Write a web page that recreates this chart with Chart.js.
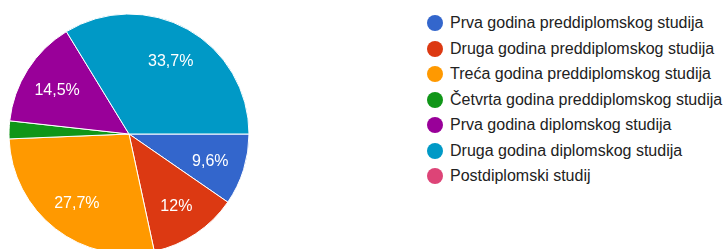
<!DOCTYPE html>
<html>
<head>
<meta charset="utf-8">
<script src="https://cdn.jsdelivr.net/npm/chart.js@4"></script>
<style>
  html, body { margin: 0; padding: 0; background: #fff; overflow: hidden; width: 725px; height: 249px; }
  #wrap { position: absolute; left: 0; top: 0; width: 258px; height: 268px; }
  #legenda { position: absolute; left: 427px; top: 0; font-family: Arial, "Liberation Sans", sans-serif; font-size: 16px; color: #222; }
  .stavka { position: absolute; left: 0; height: 20px; line-height: 20px; white-space: nowrap; }
  .tocka { position: absolute; left: 0; top: 2px; width: 16px; height: 16px; border-radius: 50%; }
  .tekst { position: absolute; left: 23px; top: 0; }
</style>
</head>
<body>
<div id="wrap"><canvas id="pita"></canvas></div>
<div id="legenda"></div>
<script>
// Podaci
const kategorije = [
  'Prva godina preddiplomskog studija',
  'Druga godina preddiplomskog studija',
  'Treća godina preddiplomskog studija',
  'Četvrta godina preddiplomskog studija',
  'Prva godina diplomskog studija',
  'Druga godina diplomskog studija',
  'Postdiplomski studij'
];
const postoci = [9.6, 12, 27.7, 2.4, 14.5, 33.7, 0];
const boje = ['#3366cc', '#dc3912', '#ff9900', '#109618', '#990099', '#0099c6', '#dd4477'];

// Legenda u HTML-u
const legenda = document.getElementById('legenda');
kategorije.forEach((naziv, i) => {
  const red = document.createElement('div');
  red.className = 'stavka';
  red.style.top = (13 + i * 25.5) + 'px';
  red.innerHTML = '<span class="tocka" style="background:' + boje[i] + '"></span><span class="tekst"></span>';
  red.querySelector('.tekst').textContent = naziv;
  legenda.appendChild(red);
});

// Natpisi s postocima unutar kriški
const natpisi = {
  id: 'natpisi',
  afterDatasetsDraw(chart) {
    const ctx = chart.ctx;
    const meta = chart.getDatasetMeta(0);
    ctx.save();
    ctx.fillStyle = '#fff';
    ctx.font = '16px Arial, "Liberation Sans", sans-serif';
    ctx.textAlign = 'center';
    ctx.textBaseline = 'middle';
    meta.data.forEach((arc, i) => {
      const v = postoci[i];
      if (v < 5) return;
      const p = arc.getProps(['x', 'y', 'startAngle', 'endAngle', 'outerRadius'], true);
      const kut = (p.startAngle + p.endAngle) / 2;
      const r = p.outerRadius * 0.71;
      const txt = v.toFixed(1).replace('.0', '').replace('.', ',') + '%';
      ctx.fillText(txt, p.x + Math.cos(kut) * r, p.y + Math.sin(kut) * r + 2);
    });
    ctx.restore();
  }
};

const ctx = document.getElementById('pita').getContext('2d');
new Chart(ctx, {
  type: 'pie',
  data: {
    labels: kategorije,
    datasets: [{
      data: postoci,
      backgroundColor: boje,
      borderColor: '#fff',
      borderWidth: 1,
      hoverOffset: 0
    }]
  },
  options: {
    responsive: true,
    maintainAspectRatio: false,
    animation: false,
    rotation: 90,
    radius: 120,
    layout: { padding: { top: 14, bottom: 14, left: 9, right: 9 } },
    plugins: {
      legend: { display: false },
      tooltip: { enabled: false }
    }
  },
  plugins: [natpisi]
});
</script>
</body>
</html>
